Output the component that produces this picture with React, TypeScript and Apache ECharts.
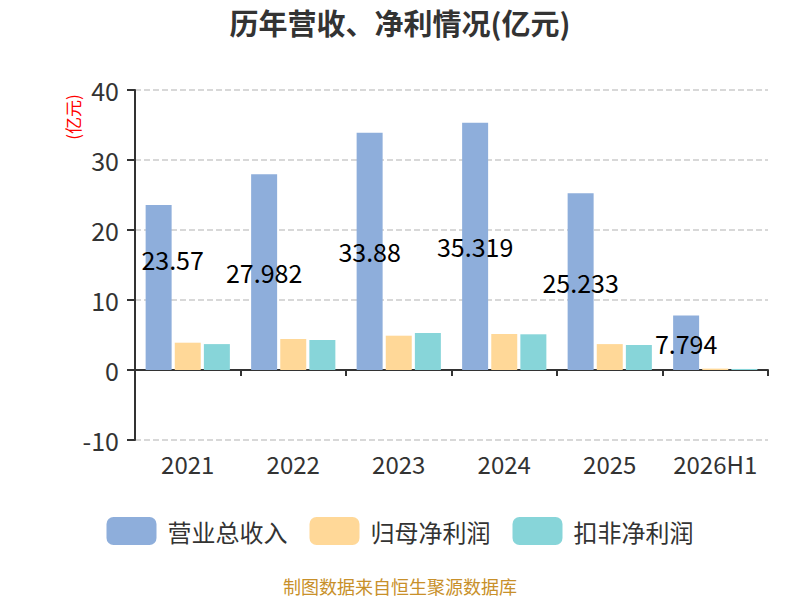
import React, { useEffect, useRef } from "react";
import * as echarts from "echarts";

const categories = ["2021", "2022", "2023", "2024", "2025", "2026H1"];
const revenue = [23.57, 27.982, 33.88, 35.319, 25.233, 7.794];
const netProfit = [3.9, 4.43, 4.9, 5.14, 3.7, 0.2];
const deductedProfit = [3.7, 4.29, 5.29, 5.1, 3.57, 0.15];
const seriesNames = ["营业总收入", "归母净利润", "扣非净利润"];
const colors = ["#8eaedb", "#ffd898", "#87d5d9"];

export default function App() {
  const ref = useRef<HTMLDivElement>(null);
  useEffect(() => {
    document.body.style.margin = "0";
    const chart = echarts.init(ref.current!, null, { renderer: "svg" });
    const font = "'Noto Sans CJK SC', 'Noto Sans', sans-serif";
    chart.setOption({
      animation: false,
      textStyle: { fontFamily: font },
      title: {
        text: "历年营收、净利情况(亿元)",
        left: "center",
        top: 6,
        padding: 0,
        textStyle: { fontSize: 29, lineHeight: 32, fontWeight: "bold", color: "#333", fontFamily: font },
      },
      grid: { left: 135, right: 32, top: 90, bottom: 160, containLabel: false },
      legend: {
        data: seriesNames,
        bottom: 50,
        left: "center",
        icon: "roundRect",
        itemWidth: 50,
        itemHeight: 28,
        itemGap: 22,
        textStyle: { fontSize: 24, color: "#333", fontFamily: font, padding: [0, 0, 0, 6] },
      },
      graphic: [
        {
          type: "text",
          x: 72,
          y: 117,
          rotation: Math.PI / 2,
          style: {
            text: "(亿元)",
            fill: "red",
            fontSize: 17,
            fontFamily: font,
            align: "center",
            verticalAlign: "middle",
          },
        },
        {
          type: "text",
          left: "center",
          top: 577,
          style: {
            text: "制图数据来自恒生聚源数据库",
            fill: "#c8902a",
            fontSize: 18,
            fontFamily: font,
          },
        },
      ],
      xAxis: {
        type: "category",
        data: categories,
        axisLine: { onZero: true, lineStyle: { color: "#333", width: 2 } },
        axisTick: { show: true, interval: 0, length: 6, lineStyle: { color: "#333", width: 2 } },
        axisLabel: { interval: 0, fontSize: 24, color: "#333", margin: 11 },
      },
      yAxis: {
        type: "value",
        min: -10,
        max: 40,
        interval: 10,
        axisLine: { show: true, lineStyle: { color: "#333", width: 2 } },
        axisTick: { show: true, length: 8, lineStyle: { color: "#333", width: 2 } },
        axisLabel: { fontSize: 25, color: "#333", margin: 16 },
        splitLine: { show: true, lineStyle: { color: "#ccc", type: "dashed", width: 1.5 } },
      },
      series: [
        {
          name: seriesNames[0],
          type: "bar",
          barWidth: 26,
          barGap: "12%",
          itemStyle: { color: colors[0] },
          label: {
            show: true,
            position: "inside",
            color: "#000",
            fontSize: 25,
            fontFamily: font,
          },
          data: revenue.map((v, i) =>
            i === 0 ? { value: v, label: { offset: [14, -29] } } : v
          ),
        },
        {
          name: seriesNames[1],
          type: "bar",
          barWidth: 26,
          barGap: "12%",
          itemStyle: { color: colors[1] },
          data: netProfit,
        },
        {
          name: seriesNames[2],
          type: "bar",
          barWidth: 26,
          barGap: "12%",
          itemStyle: { color: colors[2] },
          data: deductedProfit,
        },
      ],
    });
    return () => chart.dispose();
  }, []);
  return <div ref={ref} style={{ width: 800, height: 600 }} />;
}
